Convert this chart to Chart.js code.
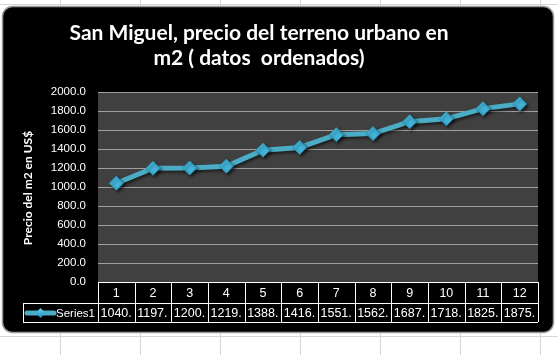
<!DOCTYPE html>
<html>
<head>
<meta charset="utf-8">
<script src="https://cdn.jsdelivr.net/npm/chart.js@4"></script>
<style>
html,body{margin:0;padding:0;background:#fff;}
canvas{display:block;}
</style>
</head>
<body>
<canvas id="c" width="558" height="355"></canvas>
<script>
const categories = ['1','2','3','4','5','6','7','8','9','10','11','12'];
const series1 = [1040, 1197, 1200, 1219, 1388, 1416, 1551, 1562, 1687, 1718, 1825, 1875];
const seriesName = 'Series1';
const yTicks = [0, 200, 400, 600, 800, 1000, 1200, 1400, 1600, 1800, 2000];
const titleLines = ['San Miguel, precio del terreno urbano en', 'm2 ( datos  ordenados)'];
const yTitle = 'Precio del m2 en US$';

const LINE = '#4bacc6';
const MARK = '#42b4da';

function diamond(ctx, x, y, r) {
  ctx.save();
  const g = ctx.createLinearGradient(x, y - r, x, y + r);
  g.addColorStop(0, '#6fd0ee');
  g.addColorStop(0.5, '#3db0d8');
  g.addColorStop(1, '#2a8db0');
  ctx.fillStyle = g;
  ctx.beginPath();
  ctx.moveTo(x, y - r); ctx.lineTo(x + r, y); ctx.lineTo(x, y + r); ctx.lineTo(x - r, y); ctx.closePath();
  ctx.fill();
  ctx.restore();
}

const decor = {
  id: 'decor',
  beforeDraw(chart) {
    const ctx = chart.ctx;
    const W = chart.width, H = chart.height;
    ctx.save();
    ctx.fillStyle = '#ffffff';
    ctx.fillRect(0, 0, W, H);
    ctx.strokeStyle = '#d6d6d6';
    ctx.lineWidth = 1;
    for (let x = 60; x < W; x += 80) {
      ctx.beginPath(); ctx.moveTo(x + 0.5, 0); ctx.lineTo(x + 0.5, H); ctx.stroke();
    }
    [4, 336].forEach(y => { ctx.beginPath(); ctx.moveTo(0, y + 0.5); ctx.lineTo(W, y + 0.5); ctx.stroke(); });
    ctx.beginPath();
    ctx.roundRect(2.5, 6.5, 551, 326, 10);
    ctx.fillStyle = '#000000';
    ctx.fill();
    ctx.strokeStyle = '#9a9a9a';
    ctx.lineWidth = 1.5;
    ctx.stroke();
    const a = chart.chartArea;
    ctx.fillStyle = '#404040';
    ctx.fillRect(a.left, a.top, a.right - a.left, a.bottom - a.top);
    ctx.restore();
  },
  beforeDatasetsDraw(chart) {
    const ctx = chart.ctx;
    ctx.save();
    ctx.shadowColor = 'rgba(0,0,0,0.55)';
    ctx.shadowOffsetX = 2;
    ctx.shadowOffsetY = 2;
    ctx.shadowBlur = 3;
  },
  afterDatasetsDraw(chart) {
    chart.ctx.restore();
  },
  afterDraw(chart) {
    const ctx = chart.ctx;
    const a = chart.chartArea;
    const xs = chart.scales.x;
    ctx.save();
    ctx.fillStyle = '#ffffff';
    ctx.textAlign = 'center';
    ctx.textBaseline = 'alphabetic';
    ctx.font = 'bold 21px Lato, "Open Sans", sans-serif';
    ctx.fillText(titleLines[0], 259, 40);
    ctx.fillText(titleLines[1], 259, 65);
    ctx.save();
    ctx.translate(32, 188);
    ctx.rotate(-Math.PI / 2);
    ctx.font = 'bold 12px Lato, "Open Sans", sans-serif';
    ctx.textBaseline = 'alphabetic';
    ctx.fillText(yTitle, 0, 0);
    ctx.restore();
    const n = categories.length;
    const cw = (a.right - a.left) / n;
    const r1t = a.bottom, r1b = 303, r2b = 322, keyL = 23;
    ctx.strokeStyle = '#ffffff';
    ctx.lineWidth = 1;
    ctx.beginPath();
    ctx.moveTo(a.left, r1t + 0.5); ctx.lineTo(a.right, r1t + 0.5);
    ctx.moveTo(keyL, r1b + 0.5); ctx.lineTo(a.right, r1b + 0.5);
    ctx.moveTo(keyL, r2b + 0.5); ctx.lineTo(a.right, r2b + 0.5);
    ctx.moveTo(keyL + 0.5, r1b); ctx.lineTo(keyL + 0.5, r2b);
    for (let i = 0; i <= n; i++) {
      const x = Math.round(a.left + i * cw) + 0.5;
      ctx.moveTo(x, r1t); ctx.lineTo(x, r2b);
    }
    ctx.stroke();
    ctx.fillStyle = '#ffffff';
    ctx.font = '12.5px "Liberation Sans", Arial, sans-serif';
    ctx.textBaseline = 'middle';
    for (let i = 0; i < n; i++) {
      const cx = xs.getPixelForValue(i);
      ctx.textAlign = 'center';
      ctx.fillText(categories[i], cx, (r1t + r1b) / 2 + 1);
      const left = a.left + i * cw;
      ctx.textAlign = 'left';
      ctx.fillText(Math.floor(series1[i]) + '.', left + 2.5, (r1b + r2b) / 2 + 1);
    }
    const ky = (r1b + r2b) / 2 + 0.5;
    ctx.strokeStyle = LINE;
    ctx.lineWidth = 5;
    ctx.lineCap = 'round';
    ctx.beginPath(); ctx.moveTo(27, ky); ctx.lineTo(54, ky); ctx.stroke();
    diamond(ctx, 40.5, ky, 5);
    ctx.fillStyle = '#ffffff';
    ctx.textAlign = 'left';
    ctx.font = '11.5px "Liberation Sans", Arial, sans-serif';
    ctx.fillText(seriesName, 56, ky + 0.5);
    ctx.restore();
  }
};

new Chart(document.getElementById('c'), {
  type: 'line',
  data: {
    labels: categories,
    datasets: [{
      label: seriesName,
      data: series1,
      borderColor: LINE,
      borderWidth: 5,
      tension: 0,
      pointStyle: 'rectRot',
      pointRadius: 7,
      pointHoverRadius: 7,
      pointBackgroundColor: MARK,
      pointBorderColor: '#2d95b8',
      pointBorderWidth: 1
    }]
  },
  options: {
    responsive: false,
    devicePixelRatio: 1,
    animation: false,
    events: [],
    layout: { padding: { left: 0, top: 92, right: 20, bottom: 73 } },
    plugins: { legend: { display: false }, title: { display: false }, tooltip: { enabled: false } },
    scales: {
      x: { display: false, offset: true },
      y: {
        min: 0, max: 2000,
        afterFit(s) { s.width = 98; },
        afterBuildTicks(s) { s.ticks = yTicks.map(v => ({ value: v })); },
        ticks: {
          color: '#ffffff',
          padding: 12,
          font: { family: '"Liberation Sans", Arial, sans-serif', size: 11.5 },
          callback: v => Number(v).toFixed(1)
        },
        grid: { color: '#a0a0a0', lineWidth: 1, drawTicks: false },
        border: { display: false }
      }
    }
  },
  plugins: [decor]
});
</script>
</body>
</html>
